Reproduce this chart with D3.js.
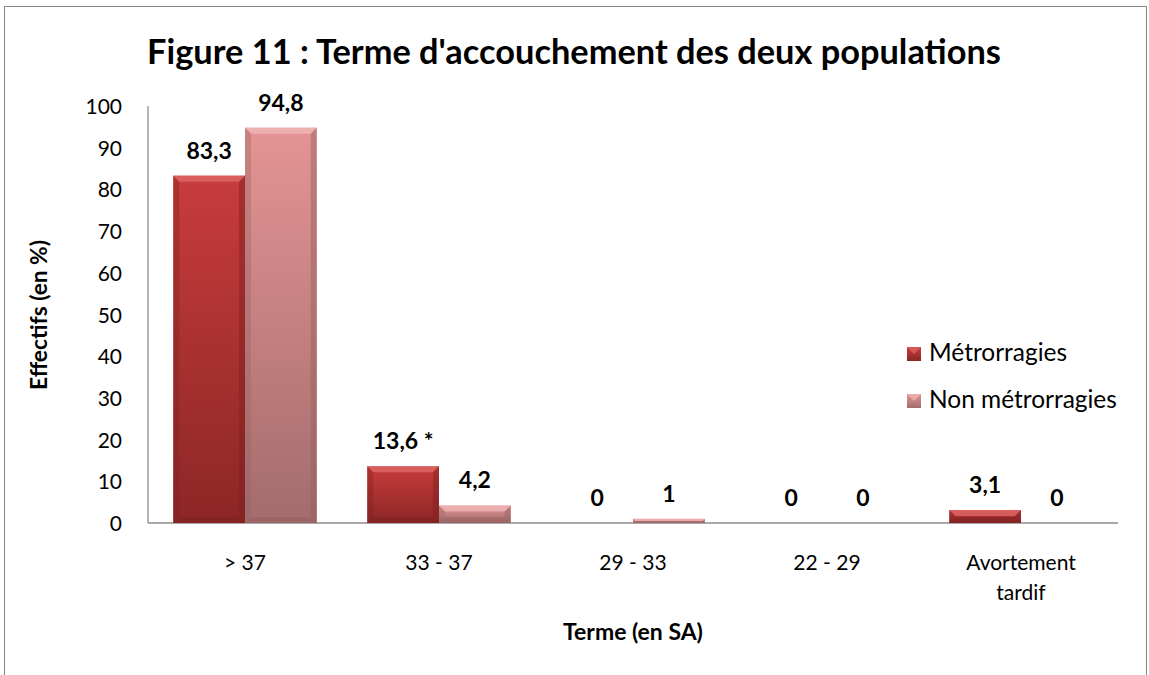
<!DOCTYPE html>
<html><head><meta charset="utf-8">
<script src="https://cdn.jsdelivr.net/npm/d3@7"></script>
<style>body{margin:0;background:#fff}svg{display:block}text{font-family:Lato,"Open Sans",sans-serif;fill:#000}</style>
</head><body><svg id="c" width="1149" height="675"></svg>
<script>
const categories = ["> 37", "33 - 37", "29 - 33", "22 - 29", "Avortement tardif"];
const seriesNames = ["Métrorragies", "Non métrorragies"];
const metrorragies = [83.3, 13.6, 0, 0, 3.1];
const nonMetrorragies = [94.8, 4.2, 1, 0, 0];
const labelsMetro = ["83,3", "13,6 *", "0", "0", "3,1"];
const labelsNon = ["94,8", "4,2", "1", "0", "0"];
const yTicks = [0,10,20,30,40,50,60,70,80,90,100];

const svg = d3.select("#c");
const W = 1149, H = 675;
const m = {left:148, right:1118, top:106, bottom:523};

// border
svg.append("path").attr("d", `M4.5,${H+2} V6.5 H1146.5 V${H+2}`).attr("fill","none").attr("stroke","#868686").attr("stroke-width",1);

const x0 = d3.scaleBand().domain(categories).range([m.left, m.right]).paddingInner(0.26).paddingOuter(0.13);
const x1 = d3.scaleBand().domain(seriesNames).range([0, x0.bandwidth()]).padding(0);
const y = d3.scaleLinear().domain([0,100]).range([m.bottom, m.top]);

const defs = svg.append("defs");
const pal = [
  {id:"g0", top:"#c83c3c", bot:"#8c2626", hi:"#e06a6a", side:"#7c2020"},
  {id:"g1", top:"#e49494", bot:"#a46c6c", hi:"#f2b8b8", side:"#946060"}
];
pal.forEach(p=>{
  const g = defs.append("linearGradient").attr("id",p.id).attr("x1",0).attr("y1",0).attr("x2",0).attr("y2",1);
  g.append("stop").attr("offset","0%").attr("stop-color",p.top);
  g.append("stop").attr("offset","100%").attr("stop-color",p.bot);
});

// axes
svg.append("line").attr("x1",m.left).attr("x2",m.left).attr("y1",m.top).attr("y2",m.bottom).attr("stroke","#8c8c8c").attr("stroke-width",1.3);
svg.append("line").attr("x1",m.left).attr("x2",m.right).attr("y1",m.bottom).attr("y2",m.bottom).attr("stroke","#8c8c8c").attr("stroke-width",1.3);

const yAxis = svg.append("g").attr("transform",`translate(${m.left},0)`)
  .call(d3.axisLeft(y).tickValues(yTicks).tickSize(0).tickPadding(26));
yAxis.select(".domain").remove();
yAxis.selectAll("text").style("font-size","21px").style("font-family","Lato").attr("dy","0.36em");

// x category labels
const xg = svg.append("g");
categories.forEach(c=>{
  const words = c === "Avortement tardif" ? ["Avortement","tardif"] : [c];
  const t = xg.append("text").attr("x", x0(c)+x0.bandwidth()/2).attr("y",570).attr("text-anchor","middle").style("font-size","21px");
  words.forEach((w,i)=>t.append("tspan").attr("x", x0(c)+x0.bandwidth()/2).attr("dy", i?30:0).text(w));
});

// bars
const data = [metrorragies, nonMetrorragies];
const labs = [labelsMetro, labelsNon];
data.forEach((vals, si)=>{
  const p = pal[si];
  categories.forEach((c, ci)=>{
    const v = vals[ci];
    const bx = x0(c) + x1(seriesNames[si]);
    const bw = x1.bandwidth();
    const by = y(v), bh = y(0)-y(v);
    if (v > 0) {
      const g = svg.append("g");
      g.append("rect").attr("x",bx).attr("y",by).attr("width",bw).attr("height",bh).attr("fill",`url(#${p.id})`);
      const b = Math.min(6, bh/2);
      g.append("path").attr("d",`M${bx},${by} L${bx+bw},${by} L${bx+bw-b},${by+b} L${bx+b},${by+b} Z`).attr("fill",p.hi).attr("opacity",0.75);
      g.append("path").attr("d",`M${bx},${by} L${bx+b},${by+b} L${bx+b},${by+bh-b} L${bx},${by+bh} Z`).attr("fill",p.side).attr("opacity",0.35);
      g.append("path").attr("d",`M${bx+bw},${by} L${bx+bw-b},${by+b} L${bx+bw-b},${by+bh-b} L${bx+bw},${by+bh} Z`).attr("fill",p.side).attr("opacity",0.45);
      g.append("path").attr("d",`M${bx},${by+bh} L${bx+b},${by+bh-b} L${bx+bw-b},${by+bh-b} L${bx+bw},${by+bh} Z`).attr("fill",p.side).attr("opacity",0.5);
    }
    svg.append("text").attr("x", bx+bw/2).attr("y", by-17).attr("text-anchor","middle")
      .style("font-size","23px").style("font-weight","bold").text(labs[si][ci]);
  });
});

function fit(t, w){ const s = parseFloat(t.style("font-size")); const l = t.node().getComputedTextLength(); const ns = s*w/l; t.style("font-size", ns+"px"); return ns; }

// title
const title = svg.append("text").attr("x",574).attr("y",64).attr("text-anchor","middle")
  .style("font-size","32px").style("font-weight","bold").text("Figure 11 : Terme d'accouchement des deux populations");
fit(title, 854);

// axis titles
const yl = svg.append("text").attr("transform","translate(47,315) rotate(-90)").attr("text-anchor","middle")
  .style("font-size","19px").style("font-weight","bold").text("Effectifs (en %)");
fit(yl, 150);
const xl = svg.append("text").attr("x",633).attr("y",640).attr("text-anchor","middle")
  .style("font-size","19px").style("font-weight","bold").text("Terme (en SA)");
fit(xl, 140);

// legend
const lg = svg.append("g");
const ltexts = [];
seriesNames.forEach((n,i)=>{
  const yy = 347 + i*47;
  const p = pal[i];
  lg.append("rect").attr("x",907).attr("y",yy).attr("width",14).attr("height",14).attr("fill",`url(#${p.id})`);
  lg.append("path").attr("d",`M907,${yy} L921,${yy} L914,${yy+7} Z`).attr("fill",p.hi).attr("opacity",0.7);
  ltexts.push(lg.append("text").attr("x",929).attr("y",yy+14).style("font-size","22px").text(n));
});
const ls = fit(ltexts[1], 188);
ltexts[0].style("font-size", ls+"px");
</script></body></html>
